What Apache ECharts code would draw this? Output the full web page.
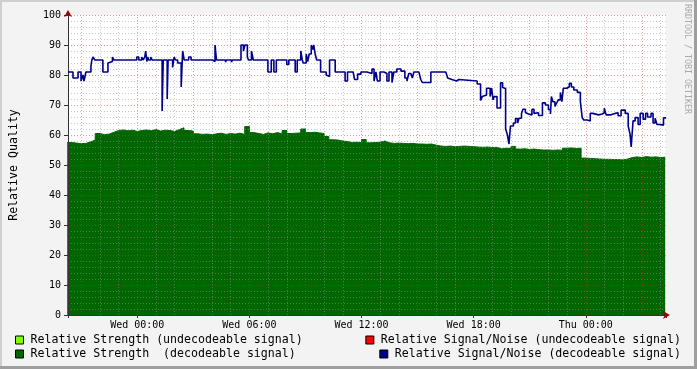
<!DOCTYPE html>
<html>
<head>
<meta charset="utf-8">
<script src="https://cdn.jsdelivr.net/npm/echarts@6/dist/echarts.min.js"></script>
<style>
html,body{margin:0;padding:0;background:#f3f3f3;}
#chart{width:697px;height:369px;}
</style>
</head>
<body>
<div id="chart"></div>
<script>
// Time axis in hours relative to Wed 00:00
const X_MIN = -3.707;
const X_MAX = 28.293;
const tickHours = [0, 6, 12, 18, 24];
const tickLabels = ['Wed 00:00', 'Wed 06:00', 'Wed 12:00', 'Wed 18:00', 'Thu 00:00'];

// Relative Strength (decodeable signal): sampled every 15 minutes
const strengthStart = -3.75;
const strengthStep = 0.25;
const strengthValues = [
  57.5, 57.3, 57.1, 57.2, 57.7, 58.3, 60.5, 60.1, 60.3, 60.9,
  61.5, 61.7, 61.4, 61.6, 61.2, 61.5, 61.7, 61.4, 61.8, 61.3,
  61.6, 61.5, 61.2, 61.8, 62.4, 61.5, 61.3, 60.4, 60.2, 60.3,
  60.1, 60.4, 60.6, 60.2, 60.5, 60.3, 60.6, 60.2, 62.8, 60.8,
  60.5, 60.2, 60.7, 60.4, 60.8, 60.4, 61.5, 60.5, 60.6, 60.7,
  62.0, 60.8, 60.9, 60.7, 60.5, 59.5, 58.4, 58.3, 58.0, 57.8,
  57.5, 57.6, 57.4, 58.5, 57.4, 57.5, 57.6, 58.0, 57.4, 57.2,
  57.3, 57.2, 57.1, 57.2, 57.0, 57.0, 56.9, 57.0, 56.6, 56.3,
  56.2, 56.3, 56.1, 56.2, 56.3, 56.2, 56.1, 56.0, 55.9, 56.0,
  55.8, 55.9, 55.4, 55.6, 55.5, 56.2, 55.3, 55.4, 55.2, 55.3,
  55.1, 55.0, 55.0, 54.9, 55.0, 54.9, 55.6, 55.7, 55.5, 55.6,
  52.3, 52.2, 52.1, 52.0, 51.9, 51.9, 51.8, 51.8, 51.7, 52.0,
  52.5, 52.7, 52.5, 52.8, 52.6, 52.7, 52.5, 52.6, 52.5
];

// Relative Signal/Noise (decodeable signal): change points (hour, value)
const snrHours = [
  -3.71, -3.44, -3.17, -3.01, -2.91, -2.85, -2.75, -2.48, -2.43, -2.37,
  -2.27, -1.84, -1.57, -1.47, -1.33, -1.25, -0.03, 0.08, 0.24, 0.32,
  0.40, 0.45, 0.51, 0.56, 0.61, 0.72, 0.80, 1.33, 1.39, 1.60,
  1.65, 1.89, 1.97, 2.05, 2.16, 2.35, 2.40, 2.43, 2.51, 2.75,
  2.88, 4.03, 4.16, 4.24, 4.72, 4.77, 5.04, 5.09, 5.55, 5.68,
  5.76, 5.89, 5.95, 6.11, 6.21, 6.99, 7.17, 7.31, 7.44, 8.00,
  8.11, 8.45, 8.56, 8.75, 8.83, 8.88, 9.04, 9.12, 9.20, 9.31,
  9.39, 9.44, 9.52, 9.60, 9.81, 10.11, 10.21, 10.29, 10.59, 11.12,
  11.25, 11.55, 11.63, 11.79, 11.97, 12.29, 12.56, 12.67, 12.77, 12.85,
  12.99, 13.20, 13.36, 13.47, 13.63, 13.73, 13.89, 14.11, 14.32, 14.43,
  14.53, 14.64, 14.72, 14.80, 15.07, 15.17, 15.25, 15.71, 16.51, 16.61,
  16.69, 16.83, 17.09, 17.20, 18.19, 18.37, 18.46, 18.56, 18.69, 18.88,
  18.96, 19.04, 19.09, 19.25, 19.44, 19.55, 19.63, 19.71, 19.81, 19.89,
  19.97, 20.13, 20.24, 20.35, 20.43, 20.56, 20.64, 20.77, 20.85, 20.93,
  21.12, 21.23, 21.33, 21.47, 21.68, 21.84, 22.00, 22.11, 22.16, 22.24,
  22.35, 22.43, 22.53, 22.64, 22.72, 22.80, 22.99, 23.12, 23.23, 23.36,
  23.55, 23.71, 23.81, 23.89, 24.08, 24.24, 24.37, 24.69, 24.88, 24.99,
  25.09, 25.31, 25.41, 25.57, 25.73, 25.89, 26.11, 26.27, 26.37, 26.43,
  26.53, 26.64, 26.80, 26.91, 27.07, 27.20, 27.31, 27.49, 27.60, 27.71,
  27.81, 27.97, 28.16, 28.30
];
const snrValues = [
  81, 79, 81, 78, 80, 78, 81, 83, 85, 86,
  85, 81, 84, 84.5, 86, 85, 86, 85, 86, 85,
  86, 88, 84.5, 86, 85, 86, 85, 68, 85, 72,
  85, 82.5, 86, 85, 84, 76, 84, 88, 85, 86,
  85, 84.5, 90, 85, 84.3, 85, 84.3, 85, 90, 88,
  90, 86, 85, 88, 85, 81, 85, 81, 85, 83.5,
  85, 81, 85, 88, 85, 84, 87, 84.5, 87, 90,
  88.5, 90, 87, 85, 81, 80, 79.5, 85, 81, 78,
  81, 81.5, 78.5, 80.3, 81, 80.5, 82, 78, 81, 78,
  81, 80.5, 78, 81, 77.5, 81, 82, 81.3, 79, 78,
  80.5, 81, 79, 81, 81.5, 78.5, 77.5, 81, 81, 79,
  78.5, 78, 78.5, 78, 77, 71.5, 72.8, 73.3, 75.6, 72.8,
  75.6, 71.7, 72.8, 69, 77.4, 75.8, 75.5, 62, 60, 57,
  63, 64, 65.5, 64, 65.6, 67.2, 68.6, 67.5, 67, 66.7,
  68.6, 67.2, 67.4, 66.5, 70.7, 70, 68.5, 67, 72.8, 71.1,
  69.5, 70.5, 71.7, 74.2, 71.1, 75.6, 76.1, 77.2, 76, 75,
  74.2, 71.1, 65.8, 65, 64.7, 67.2, 66.7, 67, 67.4, 68.9,
  66.7, 66.2, 67.2, 67.4, 66.4, 68.3, 67.2, 63, 60.2, 56,
  64.7, 65.8, 63.5, 67.2, 65.3, 67.2, 66, 67.2, 64, 65.6,
  63.5, 63.3, 65.7, 65.7
];

const seriesNames = [
  'Relative Strength (undecodeable signal)',
  'Relative Strength  (decodeable signal)',
  'Relative Signal/Noise (undecodeable signal)',
  'Relative Signal/Noise (decodeable signal)'
];
const seriesColors = ['#80ff00', '#006600', '#ff0000', '#00008c'];

const strengthData = strengthValues.map((v, i) => [strengthStart + i * strengthStep, v]);
const snrData = snrHours.map((h, i) => [h, snrValues[i]]);

const MONO = 'DejaVu Sans Mono';
const minorGrid = 'rgba(150,150,150,0.5)';
const majorGrid = 'rgba(210,50,50,0.5)';
const axisColor = '#333';
const arrowColor = '#a00000';

// vertical grid lines: every hour (minor) and every 3 hours (major)
const minorHours = [];
const majorHours = [];
for (let h = Math.ceil(X_MIN); h <= Math.floor(X_MAX); h++) {
  if (h % 3 === 0) majorHours.push({xAxis: h});
  else minorHours.push({xAxis: h});
}

function gridLineSeries(name, lines, color) {
  return {
    name: name, type: 'line', data: [], xAxisIndex: 0, yAxisIndex: 0, z: 3,
    silent: true, legendHoverLink: false,
    markLine: {
      silent: true, symbol: ['none', 'none'], animation: false,
      label: {show: false},
      emphasis: {disabled: true},
      lineStyle: {color: color, type: [1, 2], width: 1, opacity: 1},
      data: lines
    }
  };
}

const chart = echarts.init(document.getElementById('chart'), null, {renderer: 'canvas'});

function legendItem(idx, pos, top) {
  const l = {
    data: [seriesNames[idx]],
    top: top,
    orient: 'horizontal',
    padding: 0,
    icon: 'rect',
    itemWidth: 8,
    itemHeight: 8,
    selectedMode: false,
    itemStyle: {borderColor: '#000', borderWidth: 1},
    textStyle: {fontFamily: MONO, fontSize: 11.6, color: '#000', padding: [0, 0, 0, 2]}
  };
  Object.assign(l, pos);
  return l;
}

const option = {
  backgroundColor: '#f3f3f3',
  animation: false,
  grid: {left: 66, top: 15, width: 600, height: 300, show: true, backgroundColor: '#ffffff', borderWidth: 0},
  legend: [
    legendItem(0, {left: 15}, 334),
    legendItem(1, {left: 15}, 348),
    legendItem(2, {right: 16}, 334),
    legendItem(3, {right: 16}, 348)
  ],
  xAxis: [
    {
      type: 'value', min: X_MIN, max: X_MAX,
      position: 'bottom', z: 4,
      axisLine: {show: true, onZero: false, lineStyle: {color: axisColor, width: 1}},
      axisTick: {show: false},
      axisLabel: {show: false},
      splitLine: {show: false}
    },
    {
      type: 'value', min: X_MIN, max: X_MAX,
      position: 'bottom', z: 4,
      axisLine: {show: true, onZero: false, symbol: ['none', 'arrow'], symbolSize: [6, 7], symbolOffset: [0, 4],
        lineStyle: {color: arrowColor, width: 0}},
      axisTick: {show: false},
      axisLabel: {show: false},
      splitLine: {show: false}
    },
    {
      type: 'value', min: X_MIN, max: X_MAX, minInterval: 6, maxInterval: 6, splitNumber: 5,
      position: 'bottom', z: 4,
      axisLine: {show: false, onZero: false},
      axisTick: {show: true, length: 3, lineStyle: {color: axisColor}},
      splitLine: {show: false},
      axisLabel: {
        show: true, margin: 5, fontFamily: MONO, fontSize: 10, color: '#000',
        formatter: function (v) {
          for (let i = 0; i < tickHours.length; i++) {
            if (Math.abs(v - tickHours[i]) < 1e-6) return tickLabels[i];
          }
          return '';
        }
      }
    }
  ],
  yAxis: [
    {
      type: 'value', min: 0, max: 100, interval: 10, position: 'left', z: 3,
      name: 'Relative Quality', nameLocation: 'middle', nameGap: 48,
      nameTextStyle: {fontFamily: MONO, fontSize: 11.6, color: '#000'},
      axisLine: {show: true, onZero: false, lineStyle: {color: axisColor, width: 1}},
      axisTick: {show: true, length: 4, lineStyle: {color: axisColor}},
      axisLabel: {margin: 7, fontFamily: MONO, fontSize: 10, color: '#000'},
      splitLine: {show: true, lineStyle: {color: majorGrid, type: [1, 2], width: 1}},
      minorTick: {show: false, splitNumber: 5},
      minorSplitLine: {show: true, lineStyle: {color: minorGrid, type: [1, 2], width: 1}}
    },
    {
      type: 'value', min: 0, max: 100, interval: 10, position: 'left', z: 4,
      axisLine: {show: true, onZero: false, symbol: ['none', 'arrow'], symbolSize: [6, 7], symbolOffset: [0, 5],
        lineStyle: {color: arrowColor, width: 0}},
      axisTick: {show: false},
      axisLabel: {show: false},
      splitLine: {show: false}
    }
  ],
  series: [
    {
      name: seriesNames[0], type: 'line', data: [], color: seriesColors[0],
      xAxisIndex: 0, yAxisIndex: 0, showSymbol: false
    },
    {
      name: seriesNames[1], type: 'line', data: strengthData, color: seriesColors[1],
      xAxisIndex: 0, yAxisIndex: 0, step: 'end', showSymbol: false, z: 2,
      lineStyle: {width: 1, color: seriesColors[1]},
      areaStyle: {color: seriesColors[1], opacity: 1}
    },
    {
      name: seriesNames[2], type: 'line', data: [], color: seriesColors[2],
      xAxisIndex: 0, yAxisIndex: 0, showSymbol: false
    },
    gridLineSeries('minorGridX', minorHours, minorGrid),
    gridLineSeries('majorGridX', majorHours, majorGrid),
    {
      name: seriesNames[3], type: 'line', data: snrData, color: seriesColors[3],
      xAxisIndex: 0, yAxisIndex: 0, step: 'end', showSymbol: false, z: 5,
      lineStyle: {width: 1.6, color: seriesColors[3]}
    }
  ],
  graphic: [
    {type: 'rect', shape: {x: 0, y: 0, width: 697, height: 2}, style: {fill: '#cfcfcf'}, silent: true},
    {type: 'rect', shape: {x: 0, y: 0, width: 2, height: 369}, style: {fill: '#cfcfcf'}, silent: true},
    {type: 'rect', shape: {x: 0, y: 366, width: 697, height: 3}, style: {fill: '#9e9e9e'}, silent: true},
    {type: 'rect', shape: {x: 694, y: 0, width: 3, height: 369}, style: {fill: '#9e9e9e'}, silent: true},
    {
      type: 'text', x: 683, y: 4, rotation: -Math.PI / 2, silent: true,
      style: {text: 'RRDTOOL / TOBI OETIKER', fontFamily: MONO, fontSize: 8.3, fill: '#aaaaaa',
        align: 'left', verticalAlign: 'bottom'}
    }
  ]
};
chart.setOption(option);
</script>
</body>
</html>
